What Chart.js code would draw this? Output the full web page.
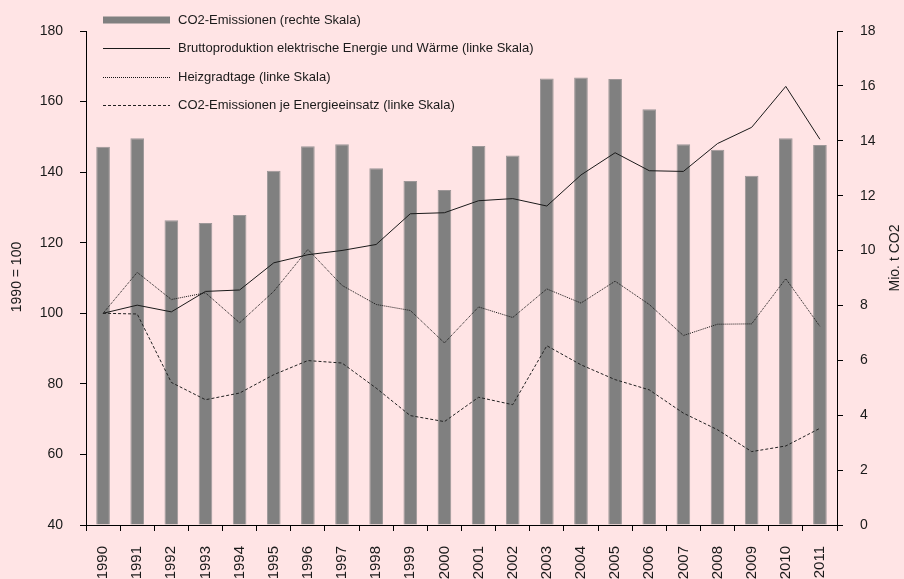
<!DOCTYPE html>
<html>
<head>
<meta charset="utf-8">
<script src="https://cdn.jsdelivr.net/npm/chart.js@4.4.1/dist/chart.umd.min.js"></script>
<style>
  html, body { margin: 0; padding: 0; background: #ffe4e5; overflow: hidden; }
  #wrap { width: 904px; height: 579px; overflow: hidden; }
  #c { display: block; }
</style>
</head>
<body>
<div id="wrap"><div style="width:904px;height:600px;position:relative;"><canvas id="c"></canvas></div></div>
<script>
const years = ['1990','1991','1992','1993','1994','1995','1996','1997','1998','1999','2000','2001','2002','2003','2004','2005','2006','2007','2008','2009','2010','2011'];
const co2Emissionen = [13.78, 14.09, 11.10, 11.00, 11.30, 12.91, 13.80, 13.87, 13.00, 12.53, 12.21, 13.81, 13.46, 16.27, 16.31, 16.25, 15.15, 13.87, 13.67, 12.73, 14.09, 13.85];
const bruttoproduktion = [100, 102.3, 100.4, 106.2, 106.6, 114.3, 116.6, 117.8, 119.5, 128.2, 128.5, 131.9, 132.5, 130.4, 139.2, 145.5, 140.4, 140.2, 148.1, 152.7, 164.3, 149.3];
const heizgradtage = [100, 111.6, 103.9, 105.8, 97.3, 106.2, 118.1, 107.9, 102.5, 100.8, 91.6, 101.8, 98.8, 106.9, 102.9, 109.1, 102.5, 93.7, 96.9, 97.0, 109.8, 96.3];
const co2JeEnergieeinsatz = [100, 99.8, 80.4, 75.5, 77.4, 82.6, 86.6, 85.9, 78.8, 71.0, 69.3, 76.2, 74.1, 90.8, 85.4, 81.2, 78.3, 71.7, 67.0, 60.8, 62.4, 67.4];
const leftTitle = '1990 = 100';
const rightTitle = 'Mio. t CO2';

const FONT = '"Liberation Sans", Arial, sans-serif';
const TXT = '#1a1a1a';

const legendPlugin = {
  id: 'customLegend',
  afterDraw(chart) {
    const ctx = chart.ctx;
    ctx.save();
    ctx.font = '13px ' + FONT;
    ctx.fillStyle = TXT;
    ctx.textBaseline = 'middle';
    ctx.textAlign = 'left';
    const rows = [20, 48, 77, 105];
    chart.data.datasets.forEach((ds, i) => {
      const y = rows[i];
      if (ds.type === 'bar') {
        ctx.fillStyle = ds.backgroundColor;
        ctx.fillRect(103, y - 3.5, 67, 7);
      } else {
        ctx.strokeStyle = ds.borderColor;
        ctx.lineWidth = ds.borderWidth;
        ctx.setLineDash(ds.borderDash || []);
        ctx.beginPath();
        ctx.moveTo(103, y + 0.5);
        ctx.lineTo(170, y + 0.5);
        ctx.stroke();
        ctx.setLineDash([]);
      }
      ctx.fillStyle = TXT;
      ctx.fillText(ds.label, 178, y);
    });
    // axis titles (read bottom to top)
    ctx.font = '14px ' + FONT;
    ctx.textAlign = 'center';
    ctx.textBaseline = 'middle';
    ctx.save();
    ctx.translate(17, 277);
    ctx.rotate(-Math.PI / 2);
    ctx.fillText(leftTitle, 0, 0);
    ctx.restore();
    ctx.save();
    ctx.translate(895, 258);
    ctx.rotate(-Math.PI / 2);
    ctx.fillText(rightTitle, 0, 0);
    ctx.restore();
    ctx.restore();
  }
};

new Chart(document.getElementById('c'), {
  data: {
    labels: years,
    datasets: [
      {
        type: 'bar',
        label: 'CO2-Emissionen (rechte Skala)',
        data: co2Emissionen,
        yAxisID: 'y1',
        backgroundColor: '#808080',
        borderColor: '#9d9798',
        borderWidth: 1,
        barPercentage: 0.4,
        categoryPercentage: 1.0,
        order: 10
      },
      {
        type: 'line',
        label: 'Bruttoproduktion elektrische Energie und Wärme (linke Skala)',
        data: bruttoproduktion,
        yAxisID: 'y',
        borderColor: '#1a1a1a',
        borderWidth: 1,
        pointRadius: 0,
        tension: 0,
        order: 1
      },
      {
        type: 'line',
        label: 'Heizgradtage (linke Skala)',
        data: heizgradtage,
        yAxisID: 'y',
        borderColor: '#151515',
        borderWidth: 1,
        borderDash: [1, 1],
        pointRadius: 0,
        tension: 0,
        order: 2
      },
      {
        type: 'line',
        label: 'CO2-Emissionen je Energieeinsatz (linke Skala)',
        data: co2JeEnergieeinsatz,
        yAxisID: 'y',
        borderColor: '#222222',
        borderWidth: 1,
        borderDash: [3, 2],
        pointRadius: 0,
        tension: 0,
        order: 3
      }
    ]
  },
  options: {
    responsive: true,
    maintainAspectRatio: false,
    animation: false,
    layout: { padding: { top: 31, left: 0, right: 0, bottom: 0 } },
    plugins: {
      legend: { display: false },
      tooltip: { enabled: false },
      title: { display: false }
    },
    scales: {
      x: {
        offset: true,
        grid: { display: true, drawOnChartArea: false, offset: true, tickLength: 6, color: '#000' },
        border: { display: true, color: '#000', width: 1 },
        ticks: { minRotation: 90, maxRotation: 90, padding: 15, color: TXT, font: { family: FONT, size: 15 }, autoSkip: false },
        afterFit(s) { s.height = 75; }
      },
      y: {
        position: 'left',
        min: 40, max: 180,
        ticks: { stepSize: 20, padding: 17, color: TXT, font: { family: FONT, size: 14 } },
        grid: { drawOnChartArea: false, tickLength: 6, color: '#000' },
        border: { display: true, color: '#000', width: 1 },
        afterFit(s) { s.width = 86; }
      },
      y1: {
        position: 'right',
        min: 0, max: 18,
        ticks: { stepSize: 2, padding: 17, color: TXT, font: { family: FONT, size: 14 } },
        grid: { drawOnChartArea: false, tickLength: 6, color: '#000' },
        border: { display: true, color: '#000', width: 1 },
        afterFit(s) { s.width = 67; }
      }
    }
  },
  plugins: [legendPlugin]
});
</script>
</body>
</html>
